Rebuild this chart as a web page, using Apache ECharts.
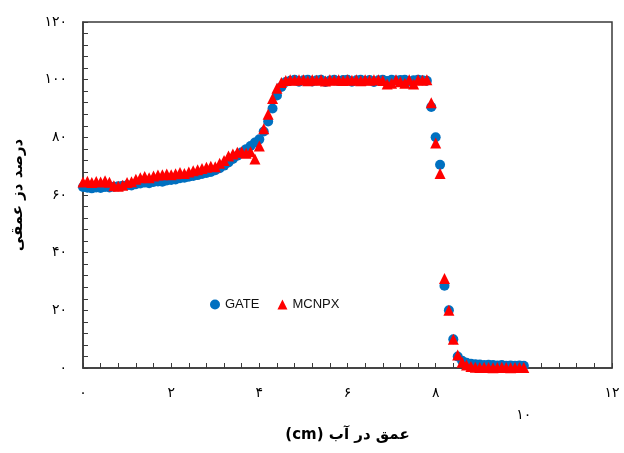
<!DOCTYPE html>
<html>
<head>
<meta charset="utf-8">
<script src="https://cdn.jsdelivr.net/npm/echarts@6/dist/echarts.min.js"></script>
<style>
  html, body { margin: 0; padding: 0; background: #fff; }
  #chart { width: 624px; height: 453px; }
</style>
</head>
<body>
<div id="chart"></div>
<script>
// 深度 (cm)
var depth = [
  0.0, 0.1, 0.2, 0.3, 0.4, 0.5, 0.6, 0.7, 0.8, 0.9,
  1.0, 1.1, 1.2, 1.3, 1.4, 1.5, 1.6, 1.7, 1.8, 1.9,
  2.0, 2.1, 2.2, 2.3, 2.4, 2.5, 2.6, 2.7, 2.8, 2.9,
  3.0, 3.1, 3.2, 3.3, 3.4, 3.5, 3.6, 3.7, 3.8, 3.9,
  4.0, 4.1, 4.2, 4.3, 4.4, 4.5, 4.6, 4.7, 4.8, 4.9,
  5.0, 5.1, 5.2, 5.3, 5.4, 5.5, 5.6, 5.7, 5.8, 5.9,
  6.0, 6.1, 6.2, 6.3, 6.4, 6.5, 6.6, 6.7, 6.8, 6.9,
  7.0, 7.1, 7.2, 7.3, 7.4, 7.5, 7.6, 7.7, 7.8, 7.9,
  8.0, 8.1, 8.2, 8.3, 8.4, 8.5, 8.6, 8.7, 8.8, 8.9,
  9.0, 9.1, 9.2, 9.3, 9.4, 9.5, 9.6, 9.7, 9.8, 9.9,
  10.0
];

var gate = [
  62.8, 62.5, 62.3, 62.6, 62.4, 62.8, 62.6, 62.9, 63.0, 63.2,
  63.4, 63.3, 63.7, 64.0, 64.3, 64.1, 64.5, 64.7, 64.6, 65.0,
  65.2, 65.4, 65.8, 66.0, 66.3, 66.6, 66.9, 67.3, 67.6, 68.0,
  68.6, 69.3, 70.2, 71.3, 72.5, 73.6, 74.8, 75.9, 77.0, 78.2,
  79.3, 82.0, 85.5, 90.0, 94.5, 97.5, 99.2, 99.6, 100.0, 99.3,
  99.8, 100.0, 99.4, 99.8, 100.0, 99.2, 99.7, 100.0, 99.5, 99.9,
  100.0, 99.3, 99.8, 100.0, 99.6, 99.9, 99.2, 99.8, 100.0, 99.5,
  100.0, 99.7, 99.9, 100.0, 99.4, 99.8, 100.0, 99.8, 99.6, 90.5,
  80.0, 70.5, 28.5, 20.0, 10.0, 4.0, 2.5, 1.8, 1.5, 1.3,
  1.2, 1.0, 1.1, 1.0, 0.9, 1.0, 0.8, 0.9, 0.8, 0.9,
  0.8
];

var mcnpx = [
  64.5, 64.8, 64.3, 64.7, 64.5, 64.9, 64.4, 63.2, 63.0, 63.4,
  64.3, 64.6, 65.5, 66.0, 66.4, 66.0, 66.6, 66.9, 67.0, 67.3,
  67.0, 67.4, 67.8, 67.5, 68.0, 68.4, 68.8, 69.2, 69.6, 70.0,
  69.8, 71.0, 72.0, 73.5, 74.2, 74.8, 75.0, 74.5, 75.0, 72.5,
  77.0, 83.0, 88.0, 93.5, 97.0, 99.0, 99.7, 100.0, 99.8, 100.0,
  100.0, 99.6, 100.0, 99.8, 100.0, 99.5, 100.0, 99.8, 100.0, 99.7,
  100.0, 99.8, 100.0, 99.6, 100.0, 99.8, 100.0, 100.0, 99.7, 98.5,
  98.8, 100.0, 99.3, 98.8, 100.0, 98.5, 100.0, 99.8, 100.0, 92.0,
  78.0, 67.5, 31.0, 20.0, 10.0, 4.5, 2.0, 1.0, 0.5, 0.3,
  0.2, 0.3, 0.2, 0.1, 0.2, 0.3, 0.2, 0.1, 0.2, 0.2,
  0.2
];

var xTickLabels = ['۰', '۲', '۴', '۶', '۸', '۱۰', '۱۲'];
var yTickLabels = ['۰', '۲۰', '۴۰', '۶۰', '۸۰', '۱۰۰', '۱۲۰'];

function pairs(xs, ys) {
  var out = [];
  for (var i = 0; i < xs.length; i++) out.push([xs[i], ys[i]]);
  return out;
}

var chart = echarts.init(document.getElementById('chart'));
var fa = '"DejaVu Sans", "Noto Sans", sans-serif';

var option = {
  animation: false,
  backgroundColor: '#fff',
  grid: {
    left: 83, right: 12, top: 22, bottom: 85,
    show: true, borderColor: '#3a3a3a', borderWidth: 1.5
  },
  legend: {
    left: 205, top: 293,
    itemWidth: 10, itemHeight: 10, itemGap: 18,
    textStyle: { color: '#111', fontSize: 13, fontFamily: '"Liberation Sans Narrow", "Liberation Sans", Arial, sans-serif' },
    data: [
      { name: 'GATE', icon: 'circle' },
      { name: 'MCNPX', icon: 'triangle' }
    ]
  },
  xAxis: {
    type: 'value', min: 0, max: 12, interval: 2,
    name: '\u202Bعمق در آب (cm)\u202C',
    nameLocation: 'middle', nameGap: 60,
    nameTextStyle: { color: '#000', fontSize: 15, fontWeight: 'bold', fontFamily: fa },
    axisLine: { show: true, lineStyle: { color: '#3a3a3a', width: 1.5 } },
    axisTick: { show: true, inside: true, length: 5, lineStyle: { color: '#3a3a3a' } },
    minorTick: { show: true, splitNumber: 5, length: 5, lineStyle: { color: '#3a3a3a' } },
    splitLine: { show: false },
    axisLabel: {
      margin: 18, color: '#000', fontSize: 14, fontFamily: fa,
      formatter: function (v) {
        var s = xTickLabels[Math.round(v / 2)];
        return v === 10 ? '{low|' + s + '}' : s;
      },
      rich: { low: { padding: [22, 0, 0, 0], fontSize: 14, fontFamily: fa, color: '#000' } }
    }
  },
  yAxis: {
    type: 'value', min: 0, max: 120, interval: 20,
    name: 'درصد دز عمقی',
    nameLocation: 'middle', nameGap: 57, nameRotate: 90,
    nameTextStyle: { color: '#000', fontSize: 15, fontWeight: 'bold', fontFamily: fa },
    axisLine: { show: true, lineStyle: { color: '#3a3a3a', width: 1.5 } },
    axisTick: { show: true, inside: true, length: 5, lineStyle: { color: '#3a3a3a' } },
    minorTick: { show: true, splitNumber: 5, length: 5, lineStyle: { color: '#3a3a3a' } },
    splitLine: { show: false },
    axisLabel: {
      margin: 16, color: '#000', fontSize: 14, fontFamily: fa,
      formatter: function (v) { return yTickLabels[Math.round(v / 20)]; }
    }
  },
  series: [
    {
      name: 'GATE', type: 'scatter', symbol: 'circle', symbolSize: 10,
      itemStyle: { color: '#0070C0', opacity: 1 },
      data: pairs(depth, gate)
    },
    {
      name: 'MCNPX', type: 'scatter', symbol: 'triangle', symbolSize: 11,
      itemStyle: { color: '#FF0000', opacity: 1 },
      data: pairs(depth, mcnpx)
    }
  ]
};

chart.setOption(option);
</script>
</body>
</html>
